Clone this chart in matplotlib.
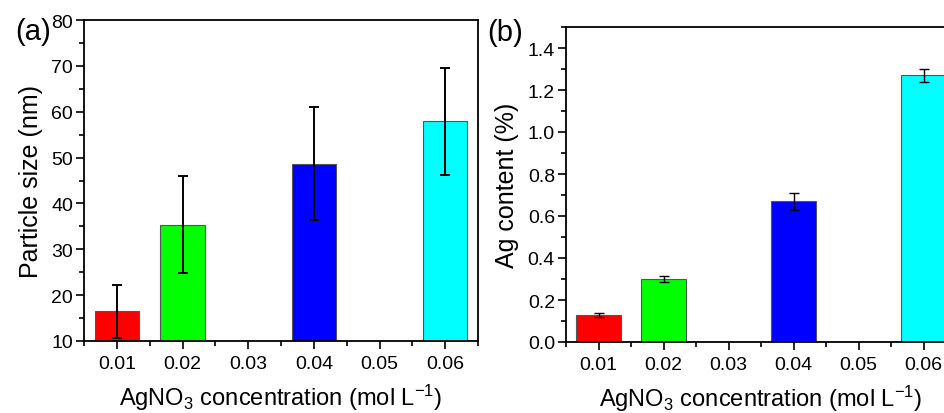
import matplotlib
matplotlib.use("Agg")
import matplotlib.pyplot as plt
from matplotlib.ticker import MultipleLocator, FormatStrFormatter

plt.rcParams['font.family'] = ['Liberation Sans', 'DejaVu Sans']
plt.rcParams['mathtext.default'] = 'regular'

# data
conc = [0.01, 0.02, 0.04, 0.06]
colors = ['#ff0000', '#00ff00', '#0000ff', '#00ffff']
size_nm = [16.5, 35.4, 48.7, 57.9]
size_err = [5.8, 10.6, 12.3, 11.6]
ag_content = [0.13, 0.30, 0.67, 1.27]
ag_err = [0.01, 0.015, 0.04, 0.03]
xticks = [0.01, 0.02, 0.03, 0.04, 0.05, 0.06]
xticklabels = ['0.01', '0.02', '0.03', '0.04', '0.05', '0.06']

W, H = 944, 414
fig = plt.figure(figsize=(W / 100, H / 100), dpi=100)


def frac(left, right, top, bottom):
    return [left / W, 1 - bottom / H, (right - left) / W, (bottom - top) / H]


ax1 = fig.add_axes(frac(84, 478, 21, 342))
ax2 = fig.add_axes(frac(566, 956, 28, 343))

xlabel = 'AgNO$_3$ concentration (mol L$^{-1}$)'


def style(ax):
    ax.set_xlim(0.005, 0.065)
    ax.set_xticks(xticks)
    ax.set_xticklabels(xticklabels)
    ax.xaxis.set_minor_locator(MultipleLocator(0.005))
    ax.tick_params(which='major', direction='out', length=6, width=1.2,
                   labelsize=14, top=False, right=False, pad=4)
    ax.tick_params(which='minor', direction='out', length=3.5, width=1.2,
                   top=False, right=False)
    ax.tick_params(axis='y', which='major', pad=2)
    for sp in ax.spines.values():
        sp.set_linewidth(1.3)
    ax.set_xlabel(xlabel, fontsize=17, labelpad=7)


ax1.bar(conc, size_nm, width=0.0068, color=colors, edgecolor='#555555',
        linewidth=0.8, zorder=2)
ax1.errorbar(conc, size_nm, yerr=size_err, fmt='none', ecolor='black',
             elinewidth=1.4, capsize=3.5, capthick=1.4, zorder=3)
style(ax1)
ax1.set_ylim(10, 80)
ax1.yaxis.set_major_locator(MultipleLocator(10))
ax1.yaxis.set_minor_locator(MultipleLocator(5))
ax1.set_ylabel('Particle size (nm)', fontsize=18, labelpad=6)

ax2.bar(conc, ag_content, width=0.0068, color=colors, edgecolor='#555555',
        linewidth=0.8, zorder=2)
ax2.errorbar(conc, ag_content, yerr=ag_err, fmt='none', ecolor='black',
             elinewidth=1.0, capsize=3.5, capthick=1.0, zorder=3)
style(ax2)
ax2.set_ylim(0, 1.5)
ax2.yaxis.set_major_locator(MultipleLocator(0.2))
ax2.yaxis.set_minor_locator(MultipleLocator(0.1))
ax2.yaxis.set_major_formatter(FormatStrFormatter('%.1f'))
ax2.set_ylabel('Ag content (%)', fontsize=18, labelpad=6)

fig.text(33 / W, 1 - 32 / H, '(a)', fontsize=21, ha='center', va='center')
fig.text(505 / W, 1 - 33 / H, '(b)', fontsize=21, ha='center', va='center')

fig.savefig('out.png', dpi=100)
